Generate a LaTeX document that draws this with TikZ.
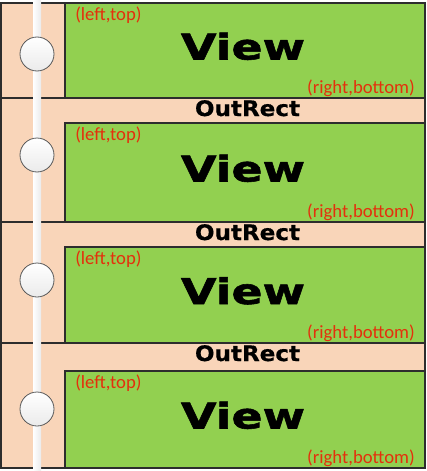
\documentclass[tikz,border=0pt]{standalone}
\usepackage{fontspec}
\usepackage{tikz}
\newfontfamily\cornerfont{Carlito}
\newfontfamily\viewfont{DejaVu Sans}[FakeStretch=1.3, FakeBold=1.6]
\newfontfamily\outfont{DejaVu Sans}[FakeStretch=1.08, FakeBold=0.6]
\definecolor{viewgreen}{RGB}{146,208,80}
\definecolor{outtan}{RGB}{249,213,185}
\definecolor{cornerred}{RGB}{228,48,12}
\definecolor{boxline}{RGB}{45,45,45}

\begin{document}
\begin{tikzpicture}[
  x=0.75pt, y=-0.75pt,
  outrect/.style={draw=boxline, fill=outtan, line width=0.8pt},
  viewbox/.style={draw=boxline, fill=viewgreen, line width=0.8pt},
  corner/.style={text=cornerred, font=\cornerfont\fontsize{14}{16}\selectfont, inner sep=0pt},
  viewlbl/.style={font=\viewfont\bfseries\fontsize{26.5}{30}\selectfont, inner sep=0pt},
  outlbl/.style={font=\outfont\bfseries\fontsize{16}{18}\selectfont, inner sep=0pt},
  knob/.style={circle, draw=black!65, line width=0.6pt, minimum size=25.5pt, inner sep=0pt, top color=white, bottom color=black!8},
]
\useasboundingbox (0,0) rectangle (427,471);

% OutRect rows with their View inside
\foreach \top/\vtop/\bot [count=\i] in {3/3/98, 98/123/222, 222/247/343, 343/371/468} {
  \pgfmathsetmacro{\vy}{(\vtop+\bot)/2+9}
  \draw[outrect] (1,\top) rectangle (425,\bot);
  \draw[viewbox] (65,\vtop) rectangle (425,\bot);
  \node[viewlbl, anchor=base] (view\i) at (243,\vy) {View};
  \node[corner, anchor=base west] (lt\i) at (75,\vtop+17) {(left,top)};
  \node[corner, anchor=base east] (rb\i) at (415,\bot-5) {(right,bottom)};
}

% OutRect labels (first one is cut off)
\foreach \top [count=\i from 2] in {98, 222, 343}
  \node[outlbl, anchor=base] (out\i) at (247.5,\top+18) {OutRect};

% Rail and knobs
\fill[left color=white, right color=black!8] (33,0) rectangle (41,471);
\foreach \cy [count=\i] in {54, 155, 280, 409}
  \node[knob] (knob\i) at (37,\cy) {};
\end{tikzpicture}
\end{document}
